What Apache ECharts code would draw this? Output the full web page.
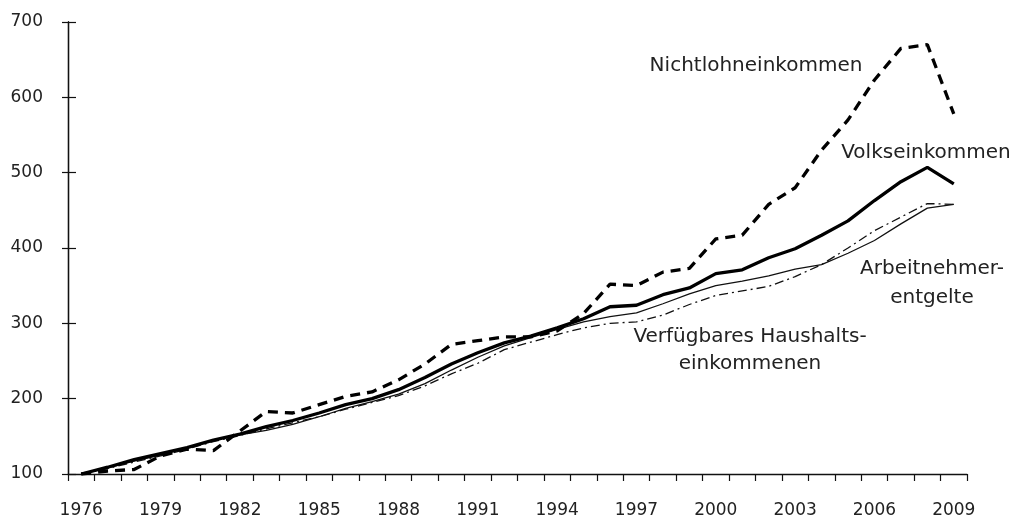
<!DOCTYPE html>
<html>
<head>
<meta charset="utf-8">
<script src="https://cdn.jsdelivr.net/npm/echarts@6/dist/echarts.min.js"></script>
<style>
  html, body { margin: 0; padding: 0; background: #fff; }
  #chart { width: 1014px; height: 519px; }
</style>
</head>
<body>
<div id="chart"></div>
<script>
// Jahre 1976-2009
var years = [];
for (var y = 1976; y <= 2009; y++) years.push(String(y));

var volkseinkommen = [100, 109, 119, 127, 135, 145, 153, 163, 171, 181, 192, 200, 212, 228, 246, 261, 274, 283, 294, 306, 322, 324, 338, 347, 366, 371, 387, 399, 417, 436, 463, 488, 507, 485];
var arbeitnehmerentgelte = [100, 108, 117, 125, 135, 145, 152, 158, 166, 176, 187, 196, 206, 220, 238, 255, 270, 281, 292, 302, 309, 314, 326, 339, 350, 356, 363, 372, 378, 393, 410, 432, 453, 458];
var haushaltseinkommen = [100, 107, 116, 124, 133, 143, 151, 160, 168, 176, 186, 195, 204, 217, 233, 247, 265, 275, 285, 294, 300, 302, 311, 325, 337, 343, 349, 362, 378, 400, 423, 441, 459, 458];
var nichtlohneinkommen = [100, 104, 106, 124, 133, 131, 157, 183, 181, 192, 203, 209, 225, 246, 272, 277, 282, 282, 290, 313, 352, 350, 368, 373, 412, 417, 458, 480, 530, 570, 623, 665, 670, 578];

var yTicks = { min: 100, max: 700, step: 100 };

var fontFam = 'DejaVu Sans';
var txtColor = '#222';

function label(text, x, y, lh) {
    return {
        type: 'text', x: x, y: y,
        style: {
            text: text, fill: txtColor, align: 'center', verticalAlign: 'middle',
            lineHeight: lh || 28, font: '20px "DejaVu Sans"'
        }
    };
}

var myChart = echarts.init(document.getElementById('chart'));
var option = {
    backgroundColor: '#fff',
    animation: false,
    grid: { left: 68, right: 47, top: 22, bottom: 45 },
    xAxis: {
        type: 'category',
        data: years,
        boundaryGap: true,
        axisLine: { lineStyle: { color: '#111', width: 1.3 } },
        axisTick: { show: true, interval: 0, length: 7, lineStyle: { color: '#111', width: 1.2 } },
        axisLabel: { interval: 2, margin: 28, color: txtColor, fontFamily: fontFam, fontSize: 17 },
        splitLine: { show: false }
    },
    yAxis: [
        {
            type: 'value',
            min: yTicks.min, max: yTicks.max, interval: yTicks.step,
            axisLine: { show: true, lineStyle: { color: '#111', width: 1.3 } },
            axisTick: { show: true, length: 6, lineStyle: { color: '#111', width: 1.2 } },
            axisLabel: { margin: 25, color: txtColor, fontFamily: fontFam, fontSize: 17 },
            splitLine: { show: false }
        },
        {
            // zweite Achse nur fuer die nach innen zeigenden Striche
            type: 'value', position: 'left', offset: 0,
            min: yTicks.min, max: yTicks.max, interval: yTicks.step,
            axisLine: { show: true, lineStyle: { color: '#111', width: 1.3 } },
            axisTick: { show: true, inside: true, length: 8, lineStyle: { color: '#111', width: 1.2 } },
            axisLabel: { show: false },
            splitLine: { show: false }
        }
    ],
    series: [
        {
            name: 'Verfügbares Haushaltseinkommenen', type: 'line', data: haushaltseinkommen,
            symbol: 'none', lineStyle: { color: '#111', width: 1.3, type: [9, 4, 2, 4] }
        },
        {
            name: 'Arbeitnehmerentgelte', type: 'line', data: arbeitnehmerentgelte,
            symbol: 'none', lineStyle: { color: '#111', width: 1.3 }
        },
        {
            name: 'Volkseinkommen', type: 'line', data: volkseinkommen,
            symbol: 'none', lineStyle: { color: '#000', width: 3.3 }
        },
        {
            name: 'Nichtlohneinkommen', type: 'line', data: nichtlohneinkommen,
            symbol: 'none', lineStyle: { color: '#000', width: 3.3, type: [10, 7] }
        }
    ],
    graphic: [
        label('Nichtlohneinkommen', 756, 66),
        label('Volkseinkommen', 926, 153),
        label('Arbeitnehmer-\nentgelte', 932, 283, 29),
        label('Verfügbares Haushalts-\neinkommenen', 750, 350, 27)
    ]
};
window.onresize = myChart.resize;
myChart.setOption(option);
</script>
</body>
</html>
